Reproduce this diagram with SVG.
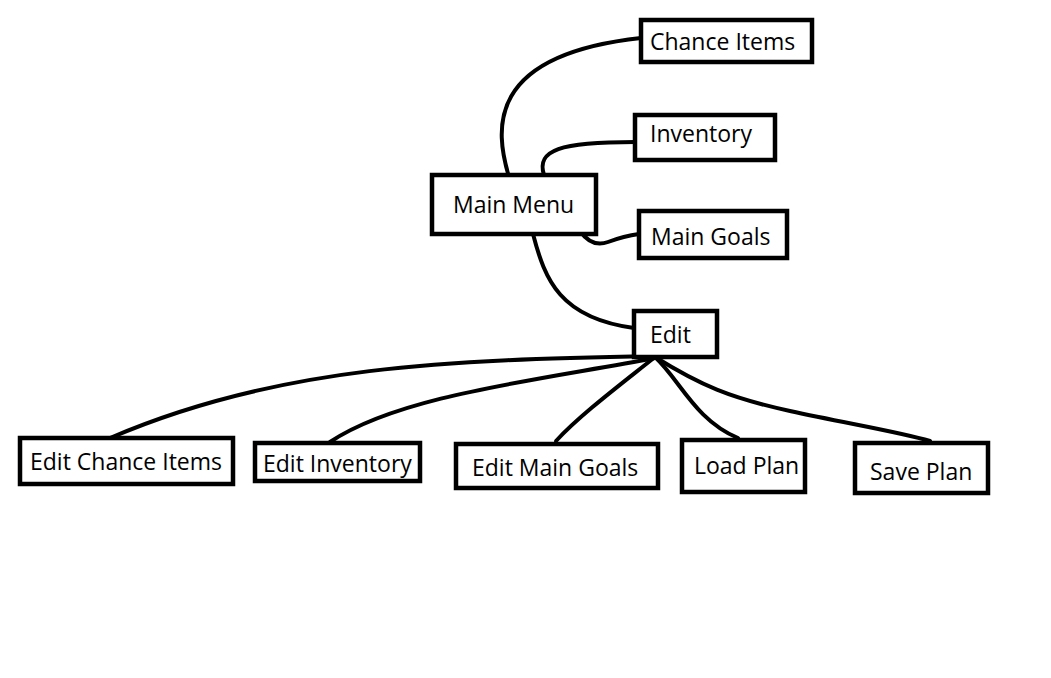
<svg xmlns="http://www.w3.org/2000/svg" width="1051" height="678" viewBox="0 0 1051 678">
<style>
.box{fill:#fff;stroke:#000;stroke-width:4.5}
.lbl{font-family:"Open Sans","Noto Sans",sans-serif;font-size:23px;fill:#000}
.edge{fill:none;stroke:#000;stroke-width:4;stroke-linecap:round}
</style>
<rect x="0" y="0" width="1051" height="678" fill="#fff"/>
<g id="connectors">
<path class="edge" d="M509 177 C495 130 485 55 641 38"/>
<path class="edge" d="M544 175 C536 150 560 142 635 142"/>
<path class="edge" d="M580 231 Q592 248 608 242 T639 234"/>
<path class="edge" d="M533 234 C545 280 560 318 634 328"/>
<path class="edge" d="M655 356 C450 360 280 365 110 438"/>
<path class="edge" d="M655 358 C540 380 400 395 330 442"/>
<path class="edge" d="M655 357 C620 385 580 415 556 441"/>
<path class="edge" d="M655 357 C680 380 695 420 738 438"/>
<path class="edge" d="M655 357 C700 385 730 398 790 411 S900 432 930 441"/>
</g>
<g id="chance-items"><rect class="box" x="641" y="20" width="171" height="42"/><text class="lbl" x="650" y="50">Chance Items</text></g>
<g id="inventory"><rect class="box" x="635" y="115" width="140" height="45"/><text class="lbl" x="650" y="142">Inventory</text></g>
<g id="main-menu"><rect class="box" x="432" y="175" width="164" height="59"/><text class="lbl" x="453" y="213">Main Menu</text></g>
<g id="main-goals"><rect class="box" x="639" y="211" width="148" height="47"/><text class="lbl" x="651" y="245">Main Goals</text></g>
<g id="edit"><rect class="box" x="634" y="311" width="83" height="46"/><text class="lbl" x="650" y="343">Edit</text></g>
<g id="edit-chance-items"><rect class="box" x="20" y="438" width="213" height="46"/><text class="lbl" x="30" y="470">Edit Chance Items</text></g>
<g id="edit-inventory"><rect class="box" x="255" y="443" width="165" height="38"/><text class="lbl" x="263" y="472">Edit Inventory</text></g>
<g id="edit-main-goals"><rect class="box" x="456" y="444" width="202" height="44"/><text class="lbl" x="472" y="476">Edit Main Goals</text></g>
<g id="load-plan"><rect class="box" x="682" y="440" width="123" height="52"/><text class="lbl" x="694" y="474">Load Plan</text></g>
<g id="save-plan"><rect class="box" x="855" y="443" width="133" height="50"/><text class="lbl" x="870" y="480">Save Plan</text></g>
</svg>
